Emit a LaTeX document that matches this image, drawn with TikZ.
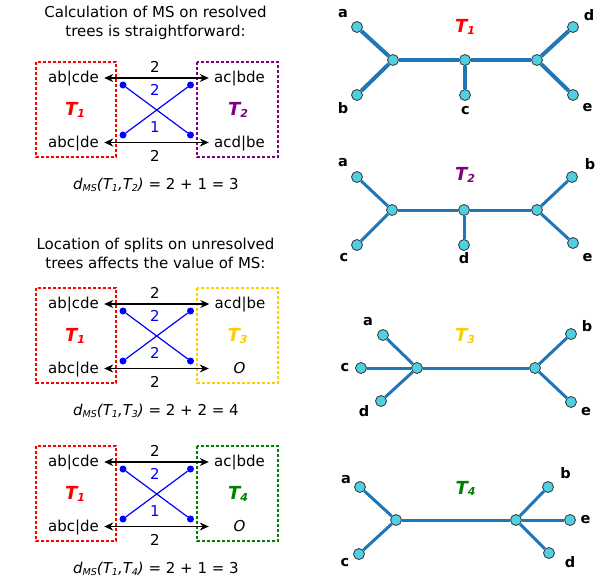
\documentclass[tikz,border=0pt]{standalone}
\usepackage{fontspec}
\setmainfont{DejaVu Sans}
\usetikzlibrary{arrows.meta}
\definecolor{edgeblue}{RGB}{31,119,186}
\definecolor{nodecyan}{RGB}{80,206,226}
\definecolor{boxpurple}{RGB}{128,0,128}
\definecolor{boxgold}{RGB}{255,204,0}
\definecolor{boxgreen}{RGB}{0,128,0}
\newcommand{\lowsub}[1]{\raisebox{-1.5pt}{\fontsize{9.5}{10}\selectfont #1}}
\newcommand{\tname}[1]{T\raisebox{-1.5pt}{\fontsize{11}{12}\selectfont #1}}
\tikzstyle{title} = [align=center, inner sep=0pt, font=\fontsize{15}{19}\selectfont]
\tikzstyle{split} = [inner sep=0pt, minimum width=58pt, text height=12pt, text depth=3pt, font=\fontsize{15}{17}\selectfont]
\tikzstyle{splitbox} = [line width=2pt, dash pattern=on 3pt off 2pt]
\tikzstyle{arrow} = [<->, line width=1.2pt, >={Stealth[length=9pt,width=8pt]}, shorten <=1.5pt, shorten >=1.5pt]
\tikzstyle{num} = [inner sep=0pt, font=\fontsize{15}{17}\selectfont]
\tikzstyle{dot} = [circle, fill=blue, inner sep=0pt, minimum size=7pt]
\tikzstyle{match} = [blue, line width=1.2pt]
\tikzstyle{treelabel} = [inner sep=0pt, font=\fontsize{18}{20}\selectfont\bfseries\itshape]
\tikzstyle{vertex} = [circle, draw=black!80, fill=nodecyan, line width=0.8pt, inner sep=0pt, minimum size=11pt]
\tikzstyle{branch} = [edgeblue, line width=3pt]
\tikzstyle{leaf} = [inner sep=0pt, font=\fontsize{14.5}{16}\selectfont\bfseries]
\begin{document}
\begin{tikzpicture}[x=1pt, y=-1pt]
    \useasboundingbox (0,0) rectangle (599,586);

    % Titles
    \node[title] (title1) at (155.5,22.8) {Calculation of MS on resolved\\trees is straightforward:};
    \node[title] (title2) at (155.5,253.3) {Location of splits on unresolved\\trees affects the value of MS:};

    % Panel T1 vs T2
    \begin{scope}[shift={(0,62)}]
        \draw[splitbox, red] (36,0) rectangle (116,95);
        \draw[splitbox, boxpurple] (197,0) rectangle (278,95);
        \node[split] (p1ab) at (73.5,16) {ab|cde};
        \node[split] (p1abc) at (73.5,80.5) {abc|de};
        \node[split] (p1ac) at (239.5,16) {ac|bde};
        \node[split] (p1acd) at (239.5,80.5) {acd|be};
        \node[treelabel, red] (p1ta) at (75,48) {\tname{1}};
        \node[treelabel, boxpurple] (p1tb) at (238,48) {\tname{2}};
        \draw[arrow] (p1ab) -- (p1ac);
        \draw[arrow] (p1abc) -- (p1acd);
        \node[num] (p1top) at (155,5) {2};
        \node[num] (p1bot) at (155,94) {2};
        \node[dot] (p1dlt) at (123,23) {};
        \node[dot] (p1drt) at (190.5,23) {};
        \node[dot] (p1dlb) at (123,73) {};
        \node[dot] (p1drb) at (190.5,73) {};
        \draw[match] (p1dlt) -- (p1drb);
        \draw[match] (p1dlb) -- (p1drt);
        \node[num, blue] (p1mtop) at (155,27.5) {2};
        \node[num, blue] (p1mbot) at (155,65) {1};
        \node[num] (p1ms) at (156,123) {\textit{d\lowsub{MS}(T\lowsub{1},T\lowsub{2})} = 2 + 1 = 3};
    \end{scope}

    % Panel T1 vs T3
    \begin{scope}[shift={(0,288)}]
        \draw[splitbox, red] (36,0) rectangle (116,95);
        \draw[splitbox, boxgold] (197,0) rectangle (278,95);
        \node[split] (p2ab) at (73.5,16) {ab|cde};
        \node[split] (p2abc) at (73.5,80.5) {abc|de};
        \node[split] (p2acd) at (240,16) {acd|be};
        \node[split] (p2o) at (239.5,80.5) {\textit{O}};
        \node[treelabel, red] (p2ta) at (75,48) {\tname{1}};
        \node[treelabel, boxgold] (p2tb) at (237.5,48) {\tname{3}};
        \draw[arrow] (p2ab) -- (p2acd);
        \draw[arrow] (p2abc) -- (p2o);
        \node[num] (p2top) at (155,5) {2};
        \node[num] (p2bot) at (155,94) {2};
        \node[dot] (p2dlt) at (123,23) {};
        \node[dot] (p2drt) at (190.5,23) {};
        \node[dot] (p2dlb) at (123,73) {};
        \node[dot] (p2drb) at (190.5,73) {};
        \draw[match] (p2dlt) -- (p2drb);
        \draw[match] (p2dlb) -- (p2drt);
        \node[num, blue] (p2mtop) at (155,27.5) {2};
        \node[num, blue] (p2mbot) at (155,65) {2};
        \node[num] (p2ms) at (156,123) {\textit{d\lowsub{MS}(T\lowsub{1},T\lowsub{3})} = 2 + 2 = 4};
    \end{scope}

    % Panel T1 vs T4
    \begin{scope}[shift={(0,446)}]
        \draw[splitbox, red] (36,0) rectangle (116,95);
        \draw[splitbox, boxgreen] (197,0) rectangle (278,95);
        \node[split] (p3ab) at (73.5,16) {ab|cde};
        \node[split] (p3abc) at (73.5,80.5) {abc|de};
        \node[split] (p3ac) at (239.5,16) {ac|bde};
        \node[split] (p3o) at (239.5,80.5) {\textit{O}};
        \node[treelabel, red] (p3ta) at (75,48) {\tname{1}};
        \node[treelabel, boxgreen] (p3tb) at (238,48) {\tname{4}};
        \draw[arrow] (p3ab) -- (p3ac);
        \draw[arrow] (p3abc) -- (p3o);
        \node[num] (p3top) at (155,5) {2};
        \node[num] (p3bot) at (155,94) {2};
        \node[dot] (p3dlt) at (123,23) {};
        \node[dot] (p3drt) at (190.5,23) {};
        \node[dot] (p3dlb) at (123,73) {};
        \node[dot] (p3drb) at (190.5,73) {};
        \draw[match] (p3dlt) -- (p3drb);
        \draw[match] (p3dlb) -- (p3drt);
        \node[num, blue] (p3mtop) at (155,27.5) {2};
        \node[num, blue] (p3mbot) at (155,65) {1};
        \node[num] (p3ms) at (156,123) {\textit{d\lowsub{MS}(T\lowsub{1},T\lowsub{4})} = 2 + 1 = 3};
    \end{scope}

    % Tree T1
    \node[vertex] (t1a) at (357,27) {};
    \node[vertex] (t1b) at (357,95) {};
    \node[vertex] (t1u) at (393,60) {};
    \node[vertex] (t1m) at (465,60) {};
    \node[vertex] (t1c) at (465,95) {};
    \node[vertex] (t1v) at (537,60) {};
    \node[vertex] (t1d) at (573,27) {};
    \node[vertex] (t1e) at (573,95) {};
    \draw[branch, line width=4pt] (t1a) -- (t1u);
    \draw[branch, line width=4pt] (t1b) -- (t1u);
    \draw[branch, line width=4pt] (t1u) -- (t1m);
    \draw[branch, line width=4pt] (t1m) -- (t1c);
    \draw[branch, line width=4pt] (t1m) -- (t1v);
    \draw[branch, line width=4pt] (t1v) -- (t1d);
    \draw[branch, line width=4pt] (t1v) -- (t1e);
    \node[leaf] (t1la) at (343,14) {a};
    \node[leaf] (t1lb) at (343,108) {b};
    \node[leaf] (t1lc) at (465.5,110.5) {c};
    \node[leaf] (t1ld) at (589,15) {d};
    \node[leaf] (t1le) at (587.5,108) {e};
    \node[treelabel, red] (t1name) at (465,27) {\tname{1}};

    % Tree T2
    \node[vertex] (t2a) at (357,177) {};
    \node[vertex] (t2c) at (357,245) {};
    \node[vertex] (t2u) at (392,210) {};
    \node[vertex] (t2m) at (464,210) {};
    \node[vertex] (t2d) at (464,245) {};
    \node[vertex] (t2v) at (537,210) {};
    \node[vertex] (t2b) at (572,177) {};
    \node[vertex] (t2e) at (573,243) {};
    \draw[branch] (t2a) -- (t2u);
    \draw[branch] (t2c) -- (t2u);
    \draw[branch] (t2u) -- (t2m);
    \draw[branch] (t2m) -- (t2d);
    \draw[branch] (t2m) -- (t2v);
    \draw[branch] (t2v) -- (t2b);
    \draw[branch] (t2v) -- (t2e);
    \node[leaf] (t2la) at (343,163) {a};
    \node[leaf] (t2lc) at (344,258) {c};
    \node[leaf] (t2ld) at (464,258.5) {d};
    \node[leaf] (t2lb) at (590,164) {b};
    \node[leaf] (t2le) at (587.5,258) {e};
    \node[treelabel, boxpurple] (t2name) at (465,175) {\tname{2}};

    % Tree T3
    \node[vertex] (t3a) at (383,335) {};
    \node[vertex] (t3c) at (361,368) {};
    \node[vertex] (t3d) at (381,401) {};
    \node[vertex] (t3u) at (417,368) {};
    \node[vertex] (t3v) at (535,368) {};
    \node[vertex] (t3b) at (571,334) {};
    \node[vertex] (t3e) at (571,402) {};
    \draw[branch] (t3a) -- (t3u);
    \draw[branch] (t3c) -- (t3u);
    \draw[branch] (t3d) -- (t3u);
    \draw[branch] (t3u) -- (t3v);
    \draw[branch] (t3v) -- (t3b);
    \draw[branch] (t3v) -- (t3e);
    \node[leaf] (t3la) at (368,322) {a};
    \node[leaf] (t3lc) at (345,368) {c};
    \node[leaf] (t3ld) at (364,411.5) {d};
    \node[leaf] (t3lb) at (587,326.5) {b};
    \node[leaf] (t3le) at (586,412) {e};
    \node[treelabel, boxgold] (t3name) at (465,336) {\tname{3}};

    % Tree T4
    \node[vertex] (t4a) at (360,487) {};
    \node[vertex] (t4c) at (359,554) {};
    \node[vertex] (t4u) at (396,520) {};
    \node[vertex] (t4v) at (516,520) {};
    \node[vertex] (t4b) at (548,487) {};
    \node[vertex] (t4e) at (570,520) {};
    \node[vertex] (t4d) at (549,553) {};
    \draw[branch] (t4a) -- (t4u);
    \draw[branch] (t4c) -- (t4u);
    \draw[branch] (t4u) -- (t4v);
    \draw[branch] (t4v) -- (t4b);
    \draw[branch] (t4v) -- (t4e);
    \draw[branch] (t4v) -- (t4d);
    \node[leaf] (t4la) at (346,479.5) {a};
    \node[leaf] (t4lc) at (345,562.5) {c};
    \node[leaf] (t4lb) at (565.5,473.5) {b};
    \node[leaf] (t4le) at (585.5,520) {e};
    \node[leaf] (t4ld) at (570,562.5) {d};
    \node[treelabel, boxgreen] (t4name) at (465.5,488.5) {\tname{4}};
\end{tikzpicture}
\end{document}
